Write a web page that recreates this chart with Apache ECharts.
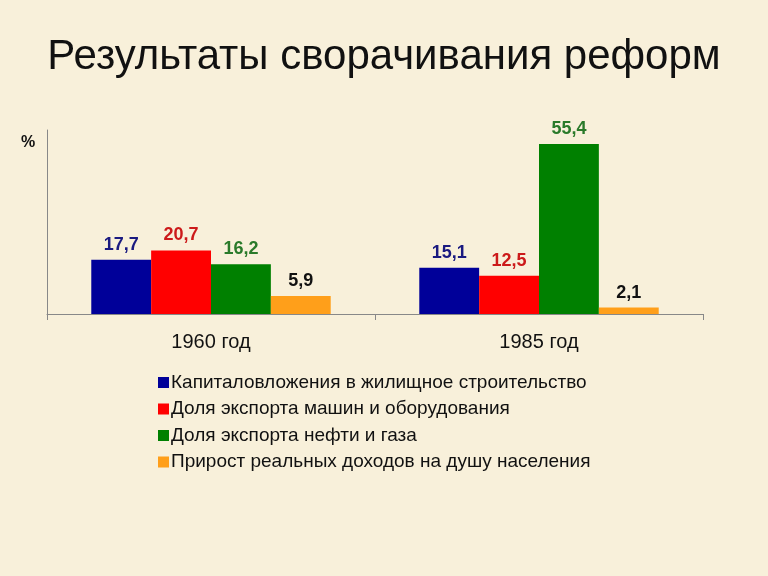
<!DOCTYPE html>
<html><head><meta charset="utf-8">
<script src="https://cdn.jsdelivr.net/npm/echarts@6/dist/echarts.min.js"></script>
<style>html,body{margin:0;padding:0;background:#f8f0da;}#c{width:768px;height:576px;}</style>
</head><body><div id="c"></div>
<script>
const categories = ['1960 год', '1985 год'];
const seriesNames = ['Капиталовложения в жилищное строительство','Доля экспорта машин и оборудования','Доля экспорта нефти и газа','Прирост реальных доходов на душу населения'];
const housing = [17.7, 15.1];
const machinery = [20.7, 12.5];
const oilGas = [16.2, 55.4];
const income = [5.9, 2.1];
const values = [housing, machinery, oilGas, income];
const colors = ['#000099', '#ff0000', '#008000', '#ff9f1a'];
const labelColors = ['#1a1a80', '#cc1a1a', '#2a7a2a', '#111111'];
const chart = echarts.init(document.getElementById('c'));
const font = 'Liberation Sans, Arial, sans-serif';
chart.setOption({
  backgroundColor: '#f8f0da',
  animation: false,
  title: { text: 'Результаты сворачивания реформ', left: 'center', top: 31,
    textStyle: { fontFamily: font, fontSize: 42, fontWeight: 'normal', color: '#111' } },
  graphic: [{ type: 'text', left: 21, top: 135, style: { text: '%', font: 'bold 16px ' + font, fill: '#111' } }],
  legend: { orient: 'vertical', left: 153, top: 368, itemWidth: 11, itemHeight: 11, itemGap: 7.5,
    icon: 'rect', data: seriesNames,
    textStyle: { fontFamily: font, fontSize: 19, color: '#111', lineHeight: 19, padding: [0,0,0,-3] } },
  grid: { left: 47, right: 65, top: 130, bottom: 262, containLabel: false },
  xAxis: { type: 'category', data: categories,
    axisLine: { lineStyle: { color: '#888', width: 1 } },
    axisTick: { show: true, length: 6, lineStyle: { color: '#888' } },
    axisLabel: { fontFamily: font, fontSize: 20, color: '#111', margin: 18 } },
  yAxis: { type: 'value', min: 0, max: 60, interval: 60,
    axisLine: { show: true, lineStyle: { color: '#888' } }, axisTick: { show: false },
    axisLabel: { show: false }, splitLine: { show: false } },
  series: values.map((v, i) => ({
    name: seriesNames[i], type: 'bar', data: v, barGap: '0%', barCategoryGap: '27%',
    itemStyle: { color: colors[i] },
    label: { show: true, position: 'top', distance: 6, color: labelColors[i],
      fontFamily: font, fontSize: 18, fontWeight: 'bold',
      formatter: p => String(p.value).replace('.', ',') }
  }))
});
</script></body></html>
